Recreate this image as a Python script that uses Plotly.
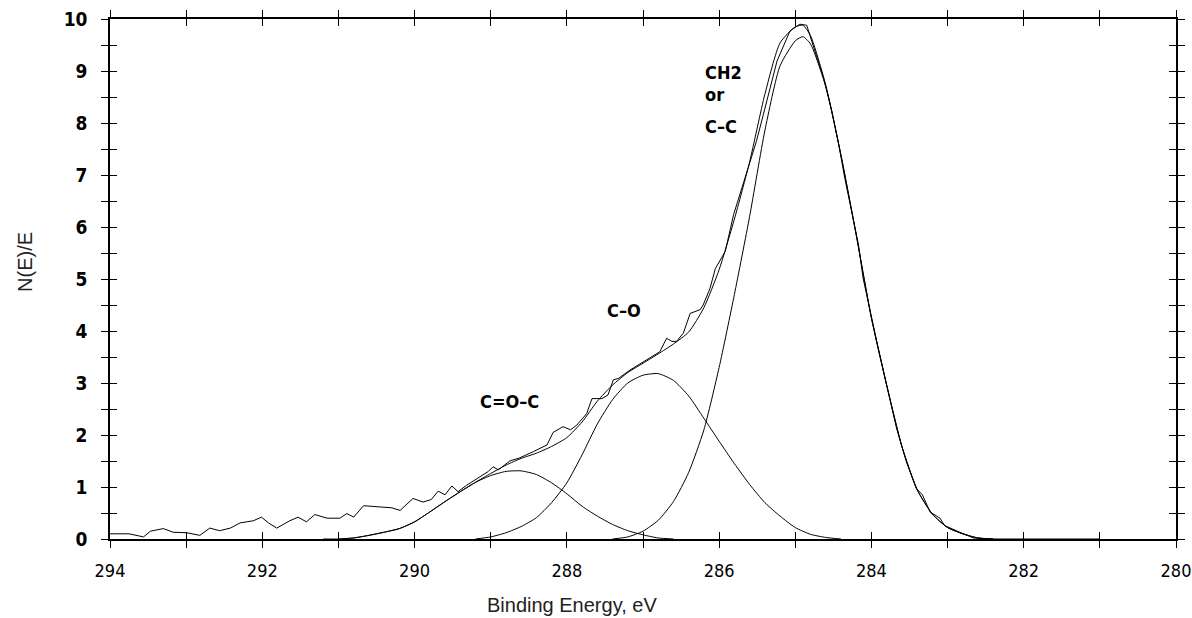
import plotly.graph_objects as go

# ---- data (binding energy eV, N(E)/E) ----
raw_x = [294.00, 293.75, 293.56, 293.47, 293.30, 293.17, 292.99, 292.82, 292.69, 292.56,
         292.42, 292.29, 292.12, 292.01, 291.92, 291.81, 291.64, 291.53, 291.42, 291.31,
         291.15, 290.98, 290.89, 290.80, 290.67, 290.41, 290.30, 290.19, 290.02, 289.89,
         289.78, 289.69, 289.60, 289.51, 289.43, 289.32, 289.18, 289.03, 288.97, 288.90,
         288.75, 288.62, 288.44, 288.26, 288.18, 288.05, 287.95, 287.87, 287.74, 287.67,
         287.54, 287.46, 287.39, 287.32, 287.17, 286.99, 286.78, 286.69, 286.62, 286.56,
         286.47, 286.38, 286.25, 286.21, 286.12, 286.05, 285.99, 285.92, 285.81, 285.73,
         285.62, 285.51, 285.42, 285.33, 285.24, 285.07, 284.94, 284.85, 284.76, 284.63,
         284.52, 284.43, 284.35, 284.26, 284.17, 284.11, 284.03, 283.93, 283.80, 283.67,
         283.54, 283.41, 283.33, 283.23, 283.10, 283.04, 282.84, 282.66, 282.40, 281.00]
raw_y = [0.10, 0.10, 0.04, 0.15, 0.20, 0.13, 0.12, 0.07, 0.21, 0.16,
         0.21, 0.31, 0.35, 0.42, 0.31, 0.21, 0.35, 0.42, 0.33, 0.47,
         0.40, 0.40, 0.49, 0.42, 0.64, 0.62, 0.60, 0.55, 0.78, 0.71,
         0.76, 0.92, 0.85, 1.02, 0.91, 1.03, 1.16, 1.30, 1.39, 1.33,
         1.50, 1.56, 1.68, 1.81, 2.05, 2.16, 2.10, 2.19, 2.41, 2.70,
         2.70, 2.77, 3.06, 3.09, 3.25, 3.41, 3.60, 3.86, 3.80, 3.80,
         3.96, 4.34, 4.41, 4.50, 4.82, 5.20, 5.34, 5.53, 6.24, 6.62,
         7.14, 7.65, 8.16, 8.70, 9.19, 9.77, 9.90, 9.88, 9.45, 8.87,
         8.23, 7.59, 6.94, 6.30, 5.66, 5.02, 4.45, 3.80, 2.96, 2.13,
         1.48, 0.97, 0.85, 0.52, 0.40, 0.26, 0.13, 0.02, 0.00, 0.00]

env_x = [291.2, 291.0, 290.8, 290.6, 290.4, 290.2, 290.0, 289.8, 289.6, 289.4,
         289.2, 289.0, 288.8, 288.6, 288.4, 288.2, 288.0, 287.8, 287.6, 287.4,
         287.2, 287.0, 286.8, 286.6, 286.4, 286.2, 286.0, 285.8, 285.6, 285.4,
         285.2, 285.0, 284.9, 284.8, 284.6, 284.4, 284.2, 284.0, 283.8, 283.6,
         283.4, 283.2, 283.0, 282.8, 282.6, 282.4]
env_y = [0.00, 0.00, 0.02, 0.07, 0.13, 0.20, 0.33, 0.52, 0.72, 0.91,
         1.09, 1.26, 1.42, 1.55, 1.65, 1.78, 1.95, 2.25, 2.65, 2.96,
         3.20, 3.38, 3.56, 3.75, 3.98, 4.45, 5.18, 6.15, 7.25, 8.55,
         9.54, 9.85, 9.88, 9.68, 8.73, 7.38, 5.85, 4.25, 2.96, 1.78,
         0.95, 0.48, 0.22, 0.10, 0.02, 0.00]

ch2_x = [287.4, 287.2, 287.0, 286.8, 286.6, 286.4, 286.2, 286.0, 285.8, 285.6,
         285.4, 285.2, 285.0, 284.9, 284.8, 284.6, 284.4, 284.2, 284.0, 283.8,
         283.6, 283.4, 283.2, 283.0, 282.8, 282.6, 282.4]
ch2_y = [0.00, 0.04, 0.15, 0.36, 0.72, 1.28, 2.10, 3.30, 4.70, 6.20,
         7.85, 9.10, 9.58, 9.66, 9.52, 8.70, 7.38, 5.85, 4.25, 2.96,
         1.78, 0.95, 0.48, 0.22, 0.10, 0.02, 0.00]

co_x = [289.2, 289.0, 288.8, 288.6, 288.4, 288.2, 288.0, 287.8, 287.6, 287.4,
        287.2, 287.0, 286.8, 286.6, 286.4, 286.2, 286.0, 285.8, 285.6, 285.4,
        285.2, 285.0, 284.8, 284.6, 284.4]
co_y = [0.00, 0.04, 0.12, 0.24, 0.41, 0.70, 1.08, 1.62, 2.21, 2.68,
        3.00, 3.15, 3.18, 3.05, 2.75, 2.32, 1.88, 1.45, 1.05, 0.70,
        0.44, 0.22, 0.09, 0.03, 0.00]

coc_x = [291.0, 290.8, 290.6, 290.4, 290.2, 290.0, 289.8, 289.6, 289.4, 289.2,
         289.0, 288.8, 288.6, 288.4, 288.2, 288.0, 287.8, 287.6, 287.4, 287.2,
         287.0, 286.8, 286.6]
coc_y = [0.00, 0.02, 0.07, 0.13, 0.20, 0.33, 0.52, 0.72, 0.91, 1.09,
         1.22, 1.30, 1.31, 1.24, 1.08, 0.87, 0.63, 0.44, 0.28, 0.16,
         0.08, 0.02, 0.00]

x_tick_vals = [294, 293, 292, 291, 290, 289, 288, 287, 286, 285, 284, 283, 282, 281, 280]
x_tick_text = ["294", "", "292", "", "290", "", "288", "", "286", "", "284", "", "282", "", "280"]
y_tick_vals = [0, 0.5, 1, 1.5, 2, 2.5, 3, 3.5, 4, 4.5, 5, 5.5, 6, 6.5, 7, 7.5, 8, 8.5, 9, 9.5, 10]
y_tick_text = ["0", "", "1", "", "2", "", "3", "", "4", "", "5", "", "6", "", "7", "", "8", "", "9", "", "10"]

peak_labels = ["CH2", "or", "C–C", "C–O", "C=O–C"]
peak_label_x = [286.21, 286.21, 286.21, 287.50, 289.17]
peak_label_y = [8.97, 8.54, 7.94, 4.39, 2.64]

fig = go.Figure()
fig.add_trace(go.Scatter(x=raw_x, y=raw_y, mode="lines", line=dict(color="black", width=1),
                         showlegend=False))
for xs, ys in [(env_x, env_y), (ch2_x, ch2_y), (co_x, co_y), (coc_x, coc_y)]:
    fig.add_trace(go.Scatter(x=xs, y=ys, mode="lines",
                             line=dict(color="black", width=1, shape="spline", smoothing=0.6),
                             showlegend=False))
# empty trace to instantiate overlay axes (inner ticks)
fig.add_trace(go.Scatter(x=[], y=[], xaxis="x2", yaxis="y2", showlegend=False))

narrow = "Liberation Sans Narrow, DejaVu Sans Condensed, DejaVu Sans"
xfont = dict(family=narrow, size=18, color="black")
yfont = dict(family="DejaVu Sans Condensed, DejaVu Sans", size=19, color="black", weight="bold")

common_x = dict(range=[294, 280], tickmode="array", tickvals=x_tick_vals, automargin=False,
                showgrid=False, zeroline=False, showline=True, linecolor="black",
                linewidth=1.5, mirror="ticks", ticklen=7, tickcolor="black", tickwidth=1.3)
common_y = dict(range=[0, 10], tickmode="array", tickvals=y_tick_vals, automargin=False,
                showgrid=False, zeroline=False, showline=True, linecolor="black",
                linewidth=1.5, mirror="ticks", ticklen=7, tickcolor="black", tickwidth=1.3)

fig.update_layout(
    width=1192, height=618,
    margin=dict(l=110, r=16, t=19, b=79, autoexpand=False),
    paper_bgcolor="white", plot_bgcolor="white",
    xaxis=dict(**common_x, ticks="outside", ticktext=x_tick_text, tickfont=xfont,
               ticklabelstandoff=8, ticklabeloverflow="allow"),
    yaxis=dict(**common_y, ticks="outside", ticktext=y_tick_text, tickfont=yfont,
               ticklabelstandoff=10, ticklabeloverflow="allow"),
    xaxis2=dict(**common_x, ticks="inside", overlaying="x", showticklabels=False),
    yaxis2=dict(**common_y, ticks="inside", overlaying="y", showticklabels=False),
)

lab_font = dict(family=narrow, size=18, color="black", weight="bold")
for t, x, y in zip(peak_labels, peak_label_x, peak_label_y):
    fig.add_annotation(x=x, y=y, text=t, showarrow=False, xanchor="left", yanchor="middle",
                       font=lab_font)

title_font = dict(family="Liberation Sans, Arial", size=20, color="#222222")
fig.add_annotation(xref="paper", yref="paper", x=-0.0797, y=0.533, text="N(E)/E",
                   textangle=-90, showarrow=False, xanchor="center", yanchor="middle",
                   font=title_font)
fig.add_annotation(xref="paper", yref="paper", x=0.433, y=-0.127, text="Binding Energy, eV",
                   showarrow=False, xanchor="center", yanchor="middle", font=title_font)

# remove the page's default body margin so the figure sits at the window's corner
fig.write_html("out.html", config={"displayModeBar": False},
               post_script="document.body.style.margin='0';document.body.style.overflow='hidden';")
